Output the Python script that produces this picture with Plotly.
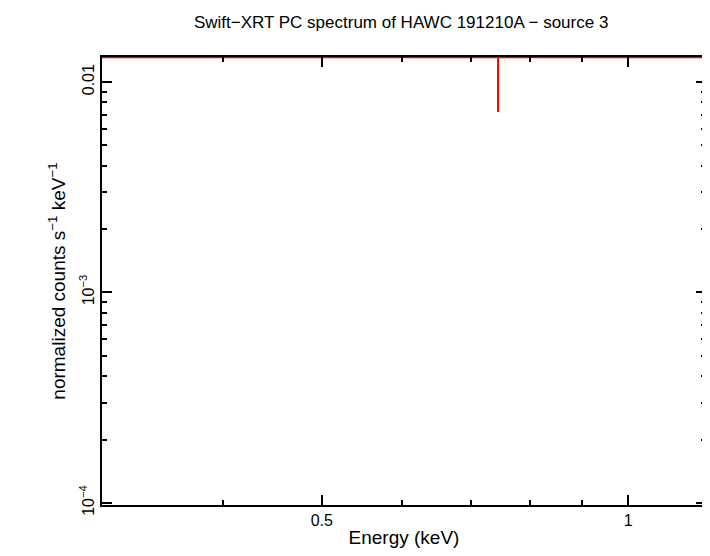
import plotly.graph_objs as go

# spectrum data (single binned point)
energy = [0.745]
e_lo = [0.30]
e_hi = [1.20]
counts = [0.0131]
c_lo = [0.0072]
c_hi = [0.0135]

x_ticks = [0.5, 1]
x_ticklabels = ['0.5', '1']
y_ticks = [0.01, 0.001, 0.0001]
y_ticklabels = ['0.01', '10<sup>\u22123</sup>', '10<sup>\u22124</sup>']

fig = go.Figure()
fig.add_trace(go.Scatter(
    x=energy, y=counts, mode='markers', marker=dict(size=1, color='red'),
    error_x=dict(type='data', symmetric=False,
                 array=[h - e for h, e in zip(e_hi, energy)],
                 arrayminus=[e - l for e, l in zip(energy, e_lo)],
                 color='red', thickness=2, width=0),
    error_y=dict(type='data', symmetric=False,
                 array=[h - c for h, c in zip(c_hi, counts)],
                 arrayminus=[c - l for c, l in zip(counts, c_lo)],
                 color='red', thickness=2, width=0),
    showlegend=False,
))

axis_common = dict(showgrid=False, zeroline=False, showline=True, linecolor='black',
                   linewidth=2, mirror='allticks', ticks='inside', ticklen=10,
                   tickwidth=2, tickcolor='black')
fig.update_xaxes(type='log', range=[-0.517, 0.0765], tickvals=x_ticks,
                 ticktext=x_ticklabels, title=dict(text='Energy (keV)', standoff=2),
                 minor=dict(ticks='inside', ticklen=5, tickwidth=2, tickcolor='black',
                            tickvals=[0.4, 0.6, 0.7, 0.8, 0.9]),
                 **axis_common)
fig.update_yaxes(type='log', range=[-4.01, -1.881], tickvals=y_ticks,
                 ticktext=y_ticklabels, tickangle=-90,
                 title=dict(text='normalized counts s<sup>\u22121</sup> keV<sup>\u22121</sup>', standoff=6),
                 minor=dict(ticks='inside', ticklen=5, tickwidth=2, tickcolor='black',
                            tickvals=[2e-4, 3e-4, 4e-4, 5e-4, 6e-4, 7e-4, 8e-4, 9e-4,
                                      2e-3, 3e-3, 4e-3, 5e-3, 6e-3, 7e-3, 8e-3, 9e-3]),
                 **axis_common)
fig.update_layout(
    width=702, height=548,
    margin=dict(l=94, r=2, t=49, b=51),
    plot_bgcolor='white', paper_bgcolor='white',
    font=dict(family='Liberation Sans, Arial', size=16, color='black'),
    title=dict(text='Swift\u2212XRT PC spectrum of HAWC 191210A \u2212 source 3',
               x=0.56, xanchor='center', y=0.985, yanchor='top', font=dict(size=17)),
)
fig.write_html("out.html")
